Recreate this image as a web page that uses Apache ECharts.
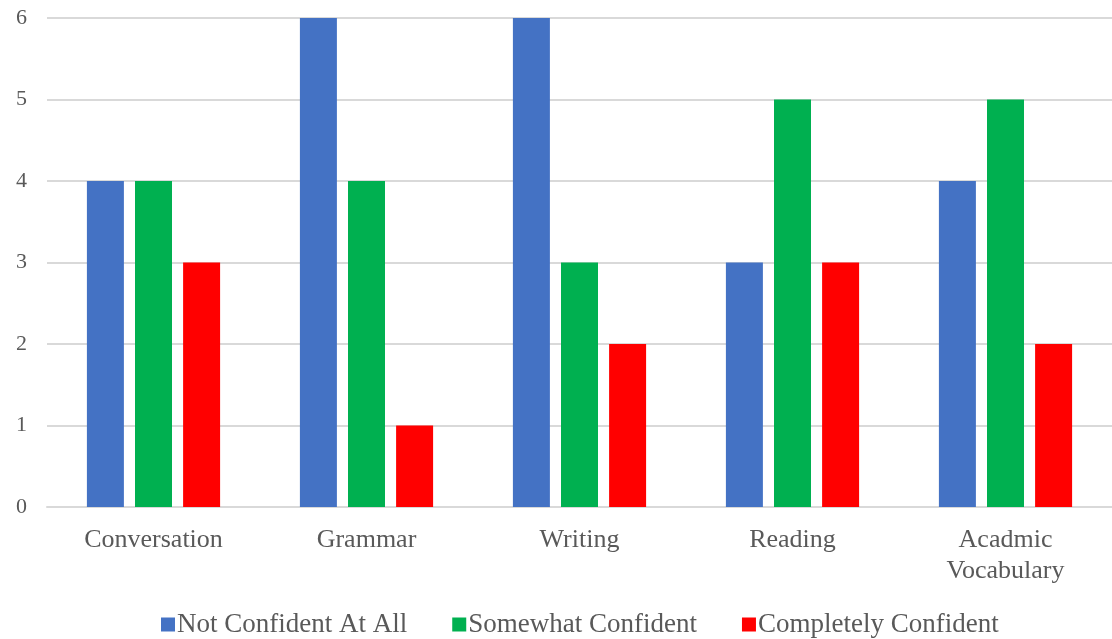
<!DOCTYPE html>
<html>
<head>
<meta charset="utf-8">
<script src="https://cdn.jsdelivr.net/npm/echarts@6/dist/echarts.min.js"></script>
<style>
  html, body { margin: 0; padding: 0; background: #fff; }
  #chart { width: 1112px; height: 639px; }
</style>
</head>
<body>
<div id="chart"></div>
<script>
// Skill areas along the x axis
const categories = ['Conversation', 'Grammar', 'Writing', 'Reading', 'Acadmic\nVocabulary'];

// Number of responses per confidence level
const notConfident = [4, 6, 6, 3, 4];
const somewhatConfident = [4, 4, 3, 5, 5];
const completelyConfident = [3, 1, 2, 3, 2];

const seriesNames = ['Not Confident At All', 'Somewhat Confident', 'Completely Confident'];
const seriesColors = ['#4472C4', '#00B050', '#FF0000'];
const yTicks = { min: 0, max: 6, interval: 1 };

const fontFamily = '"Liberation Serif", "Times New Roman", serif';
const textColor = '#595959';
const gridColor = '#D9D9D9';

const chart = echarts.init(document.getElementById('chart'));
const values = [notConfident, somewhatConfident, completelyConfident];

chart.setOption({
  animation: false,
  grid: { left: 47, right: 0, top: 18, bottom: 132, containLabel: false },
  legend: {
    top: 606,
    left: 156,
    itemWidth: 14,
    itemHeight: 14,
    itemGap: 45,
    icon: 'rect',
    textStyle: { fontFamily, fontSize: 27, color: textColor, padding: [0, 0, 0, -3] },
    data: seriesNames
  },
  xAxis: {
    type: 'category',
    data: categories,
    axisLine: { lineStyle: { color: gridColor, width: 2 } },
    axisTick: { show: false },
    axisLabel: { fontFamily, fontSize: 26, color: textColor, margin: 18, lineHeight: 31 }
  },
  yAxis: {
    type: 'value',
    min: yTicks.min,
    max: yTicks.max,
    interval: yTicks.interval,
    axisLine: { show: false },
    axisTick: { show: false },
    splitLine: { lineStyle: { color: gridColor, width: 2 } },
    axisLabel: { fontFamily, fontSize: 22, color: textColor, margin: 20 }
  },
  series: seriesNames.map((name, i) => ({
    name,
    type: 'bar',
    data: values[i],
    barWidth: 37,
    barGap: '30%',
    itemStyle: { color: seriesColors[i] }
  }))
});
</script>
</body>
</html>
